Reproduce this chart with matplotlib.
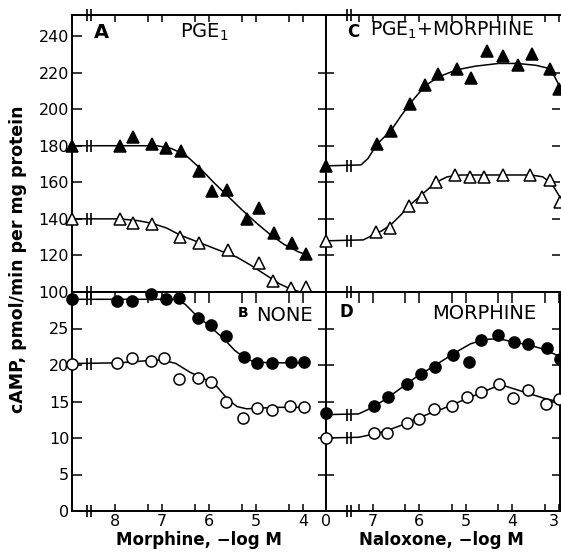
import matplotlib
matplotlib.use("Agg")
import matplotlib.pyplot as plt
from matplotlib.ticker import FixedLocator, NullFormatter

plt.rcParams["font.family"] = ["DejaVu Sans"]

# control (no drug) is plotted on the y axis of each panel
LEFT_CTRL = 8.91
RIGHT_CTRL = 8.0

# ---- panel A: PGE1, morphine dose (-log M) ----
a_filled_x = [LEFT_CTRL, 7.89, 7.62, 7.21, 6.91, 6.6, 6.21, 5.94, 5.62, 5.19, 4.94, 4.62, 4.23, 3.94]
a_filled_y = [180, 180, 185, 181, 179, 177, 166, 155, 156, 140, 146, 132, 127, 121]
a_open_x = [LEFT_CTRL, 7.89, 7.62, 7.21, 6.62, 6.21, 5.6, 4.94, 4.64, 4.26, 3.94]
a_open_y = [140, 140, 138, 137, 130, 127, 123, 116, 106, 102, 103]
a_fit_filled_x = [LEFT_CTRL, 7.1, 6.8, 6.5, 6.2, 5.9, 5.6, 5.3, 5.0, 4.7, 4.4, 4.1, 3.94]
a_fit_filled_y = [180, 180, 178.5, 175, 168, 160, 152.5, 145, 138, 131.5, 126, 122, 120.5]
a_fit_open_x = [LEFT_CTRL, 7.9, 7.5, 7.2, 6.9, 6.6, 6.3, 6.0, 5.7, 5.4, 5.1, 4.8, 4.5, 4.25, 4.05]
a_fit_open_y = [140, 140, 139, 137.5, 135, 131, 128, 125, 122, 119, 114.5, 109.5, 104.5, 101.5, 100]

# ---- panel B: none ----
b_filled_x = [LEFT_CTRL, 7.96, 7.64, 7.23, 6.91, 6.64, 6.23, 5.96, 5.64, 5.26, 4.98, 4.66, 4.26, 3.98]
b_filled_y = [29.0, 28.8, 28.8, 29.7, 29.0, 29.2, 26.4, 25.5, 24.0, 21.1, 20.3, 20.3, 20.4, 20.4]
b_open_x = [LEFT_CTRL, 7.96, 7.64, 7.23, 6.96, 6.64, 6.23, 5.96, 5.64, 5.28, 4.98, 4.66, 4.28, 3.98]
b_open_y = [20.1, 20.3, 21.0, 20.5, 20.9, 18.1, 18.2, 17.7, 14.9, 12.7, 14.1, 13.8, 14.4, 14.3]
b_fit_filled_x = [LEFT_CTRL, 6.7, 6.5, 6.3, 6.0, 5.7, 5.45, 5.2, 5.0, 4.7, 3.98]
b_fit_filled_y = [29.0, 29.0, 28.3, 27.0, 25.4, 23.7, 22.0, 20.8, 20.4, 20.3, 20.3]
b_fit_open_x = [LEFT_CTRL, 7.9, 7.3, 7.0, 6.7, 6.4, 6.1, 5.85, 5.6, 5.4, 5.2, 4.9, 4.5, 3.98]
b_fit_open_y = [20.2, 20.3, 20.6, 20.7, 20.2, 19.0, 18.1, 17.2, 15.3, 14.3, 14.0, 14.1, 14.2, 14.2]

# ---- panel C: PGE1 + morphine, naloxone dose ----
c_filled_x = [RIGHT_CTRL, 6.91, 6.61, 6.2, 5.88, 5.59, 5.18, 4.88, 4.54, 4.2, 3.88, 3.58, 3.2, 3.0]
c_filled_y = [169, 181, 188, 203, 213, 219, 222, 217, 232, 229, 224, 230, 222, 211]
c_open_x = [RIGHT_CTRL, 6.93, 6.63, 6.23, 5.93, 5.63, 5.24, 4.92, 4.62, 4.2, 3.62, 3.2, 2.98]
c_open_y = [128, 133, 135, 147, 152, 160, 164, 163, 163, 164, 164, 161, 149]
c_fit_filled_x = [RIGHT_CTRL, 7.25, 7.1, 6.9, 6.6, 6.4, 6.2, 6.0, 5.8, 5.6, 5.2, 4.8, 4.3, 3.9, 3.5, 3.25, 3.1, 2.96]
c_fit_filled_y = [169, 169.5, 173, 181, 188.5, 196, 203, 209, 214, 217.5, 221.5, 223.5, 225, 225, 224, 222.5, 218, 211]
c_fit_open_x = [RIGHT_CTRL, 7.2, 7.0, 6.8, 6.6, 6.4, 6.2, 6.0, 5.8, 5.6, 5.4, 5.1, 4.5, 3.6, 3.35, 3.15, 2.96]
c_fit_open_y = [128, 128.5, 131, 133.5, 137, 142, 147.5, 152, 156.5, 160.5, 163, 164, 164, 164, 163, 159, 151]

# ---- panel D: morphine, naloxone dose ----
d_filled_x = [RIGHT_CTRL, 6.97, 6.67, 6.27, 5.97, 5.67, 5.27, 4.94, 4.67, 4.32, 3.96, 3.66, 3.26, 2.98]
d_filled_y = [13.4, 14.4, 15.6, 17.4, 18.7, 19.7, 21.4, 20.4, 23.4, 24.1, 23.2, 22.9, 22.3, 20.8]
d_open_x = [RIGHT_CTRL, 6.97, 6.7, 6.27, 6.0, 5.69, 5.29, 4.97, 4.67, 4.28, 3.98, 3.66, 3.28, 3.0]
d_open_y = [10.0, 10.7, 10.7, 12.0, 12.6, 14.0, 14.4, 15.6, 16.3, 17.4, 15.5, 16.6, 14.7, 15.3]
d_fit_filled_x = [RIGHT_CTRL, 7.3, 7.0, 6.7, 6.4, 6.1, 5.8, 5.5, 5.2, 4.9, 4.6, 4.3, 4.0, 3.7, 3.4, 3.1, 2.96]
d_fit_filled_y = [13.2, 13.3, 14.2, 15.4, 16.8, 18.2, 19.4, 20.6, 21.8, 22.9, 23.5, 23.6, 23.2, 22.8, 22.3, 21.5, 21.0]
d_fit_open_x = [RIGHT_CTRL, 7.3, 7.0, 6.7, 6.4, 6.1, 5.8, 5.5, 5.2, 4.9, 4.6, 4.3, 4.2, 3.9, 3.6, 3.3, 2.96]
d_fit_open_y = [10.0, 10.1, 10.5, 11.0, 11.7, 12.5, 13.3, 14.0, 14.8, 15.6, 16.4, 17.2, 17.2, 16.6, 16.0, 15.4, 14.9]

top_yticks = [100, 120, 140, 160, 180, 200, 220, 240]
bottom_yticks = [0, 5, 10, 15, 20, 25]
left_xticks = [8, 7, 6, 5, 4]
right_xticks = [8, 7, 6, 5, 4, 3]
right_xticklabels = ["0", "7", "6", "5", "4", "3"]
half_log_ticks = [7.3, 6.3, 5.3, 4.3, 3.3]

LW = 1.4


def draw_break(ax, x, y, transform=None):
    """Two short bars, the axis-break sign."""
    kw = dict(marker="|", ms=8, mew=1.2, ls="none", color="black",
              clip_on=False, zorder=6)
    if transform is not None:
        kw["transform"] = transform
    ax.plot([x - 0.045, x + 0.045], [y, y], **kw)


def plot_series(ax, x, y, fit_x, fit_y, marker, filled, brk):
    ax.plot(fit_x, fit_y, color="black", lw=1.1, zorder=2, clip_on=True)
    ax.plot(x, y, ls="none", marker=marker, ms=9 if marker == "^" else 8,
            mfc="black" if filled else "white", mec="black", mew=1.1,
            zorder=4, clip_on=False)
    draw_break(ax, brk, fit_y[0])


def style_axes(ax):
    for sp in ax.spines.values():
        sp.set_linewidth(LW)
    ax.tick_params(which="both", width=1.1, labelsize=11.5, pad=2)


fig = plt.figure(figsize=(5.61, 5.52), dpi=100)

lx, lw = 72 / 561, 254 / 561
rx, rw = 326 / 561, 234 / 561
ty, th = (552 - 292) / 552, 277 / 552
by, bh = (552 - 511) / 552, 219 / 552

axA = fig.add_axes([lx, ty, lw, th])
axB = fig.add_axes([lx, by, lw, bh])
axC = fig.add_axes([rx, ty, rw, th])
axD = fig.add_axes([rx, by, rw, bh])

for ax in (axA, axB, axC, axD):
    style_axes(ax)

# limits
for ax in (axA, axB):
    ax.set_xlim(LEFT_CTRL, 3.51)
for ax in (axC, axD):
    ax.set_xlim(RIGHT_CTRL, 2.98)
axA.set_ylim(100, 251.5)
axC.set_ylim(100, 251.5)
axB.set_ylim(0, 30)
axD.set_ylim(0, 30)

# data
plot_series(axA, a_filled_x, a_filled_y, a_fit_filled_x, a_fit_filled_y, "^", True, 8.55)
plot_series(axA, a_open_x, a_open_y, a_fit_open_x, a_fit_open_y, "^", False, 8.55)
plot_series(axB, b_filled_x, b_filled_y, b_fit_filled_x, b_fit_filled_y, "o", True, 8.55)
plot_series(axB, b_open_x, b_open_y, b_fit_open_x, b_fit_open_y, "o", False, 8.55)
plot_series(axC, c_filled_x, c_filled_y, c_fit_filled_x, c_fit_filled_y, "^", True, 7.5)
plot_series(axC, c_open_x, c_open_y, c_fit_open_x, c_fit_open_y, "^", False, 7.5)
plot_series(axD, d_filled_x, d_filled_y, d_fit_filled_x, d_fit_filled_y, "o", True, 7.5)
plot_series(axD, d_open_x, d_open_y, d_fit_open_x, d_fit_open_y, "o", False, 7.5)

# ---- ticks ----
# panel A: y labels on the left, ticks on top
axA.yaxis.set_major_locator(FixedLocator(top_yticks))
axA.tick_params(axis="y", direction="in", length=7, right=False)
axA.xaxis.set_major_locator(FixedLocator(left_xticks))
axA.xaxis.set_minor_locator(FixedLocator(half_log_ticks))
axA.tick_params(axis="x", which="both", direction="in", length=5,
                top=True, bottom=False, labelbottom=False)

# panel B
axB.yaxis.set_major_locator(FixedLocator(bottom_yticks + [30]))
axB.set_yticklabels([str(v) for v in bottom_yticks] + [""])
axB.tick_params(axis="y", direction="in", length=7, right=False)
axB.xaxis.set_major_locator(FixedLocator(left_xticks))
axB.xaxis.set_minor_locator(FixedLocator(half_log_ticks))
axB.xaxis.set_minor_formatter(NullFormatter())
axB.tick_params(axis="x", which="both", direction="in", length=5,
                top=True, bottom=True)
axB.tick_params(axis="x", which="both", top=True, labeltop=False)
for t in axB.xaxis.get_major_ticks() + axB.xaxis.get_minor_ticks():
    t.tick2line.set_markersize(8)
    t.tick2line.set_marker(3)

# panel C: ticks across the divider and on the right edge
axC.yaxis.set_major_locator(FixedLocator([120, 140, 160, 180, 200, 220]))
axC.tick_params(axis="y", direction="inout", length=11, labelleft=False,
                right=True)
axC.xaxis.set_major_locator(FixedLocator([7, 6, 5, 4, 3]))
axC.xaxis.set_minor_locator(FixedLocator(half_log_ticks))
axC.tick_params(axis="x", which="both", direction="in", length=5,
                top=True, bottom=False, labelbottom=False)
for t in axC.yaxis.get_major_ticks():
    t.tick2line.set_markersize(6)
    t.tick2line.set_marker(0)
axC.spines["right"].set_visible(False)

# panel D
axD.yaxis.set_major_locator(FixedLocator([5, 10, 15, 20, 25]))
axD.tick_params(axis="y", direction="inout", length=11, labelleft=False,
                right=True)
for t in axD.yaxis.get_major_ticks():
    t.tick2line.set_markersize(6)
    t.tick2line.set_marker(0)
axD.xaxis.set_major_locator(FixedLocator(right_xticks))
axD.set_xticklabels(right_xticklabels)
axD.xaxis.set_minor_locator(FixedLocator(half_log_ticks))
axD.xaxis.set_minor_formatter(NullFormatter())
axD.tick_params(axis="x", which="both", direction="in", length=5,
                top=True, bottom=True)
for t in axD.xaxis.get_major_ticks() + axD.xaxis.get_minor_ticks():
    t.tick2line.set_markersize(8)
    t.tick2line.set_marker(3)
# last label sits on the figure edge: keep it inside
axD.get_xticklabels()[-1].set_horizontalalignment("right")

# breaks on the x axes
draw_break(axA, 8.55, 1, axA.get_xaxis_transform())
draw_break(axB, 8.55, 0, axB.get_xaxis_transform())
draw_break(axB, 8.55, 1, axB.get_xaxis_transform())
draw_break(axC, 7.5, 1, axC.get_xaxis_transform())
draw_break(axD, 7.5, 0, axD.get_xaxis_transform())
draw_break(axD, 7.5, 1, axD.get_xaxis_transform())

# ---- panel labels ----
axA.text(8.45, 242, "A", fontsize=14, fontweight="bold", ha="left", va="center")
axA.text(6.62, 242, r"PGE$_\mathregular{1}$", fontsize=14, ha="left", va="center")
axC.text(7.42, 242, "C", fontsize=12, fontweight="bold", ha="center", va="center")
axC.text(7.05, 243, r"PGE$_\mathregular{1}$+MORPHINE", fontsize=13.5,
         ha="left", va="center")
axB.text(5.28, 27.1, "B", fontsize=10, fontweight="bold", ha="center", va="center")
axB.text(5.0, 26.8, "NONE", fontsize=14, ha="left", va="center")
axD.text(7.57, 27.2, "D", fontsize=12, fontweight="bold", ha="center", va="center")
axD.text(4.6, 27.0, "MORPHINE", fontsize=14, ha="center", va="center")

fig.text(0.032, 0.53, "cAMP, pmol/min per mg protein", rotation=90,
         fontsize=12.5, fontweight="bold", ha="center", va="center")
fig.text(0.355, 0.022, "Morphine, \u2212log M", fontsize=12,
         fontweight="bold", ha="center", va="center")
fig.text(0.787, 0.022, "Naloxone, \u2212log M", fontsize=12,
         fontweight="bold", ha="center", va="center")

fig.savefig("out.png", dpi=100)
